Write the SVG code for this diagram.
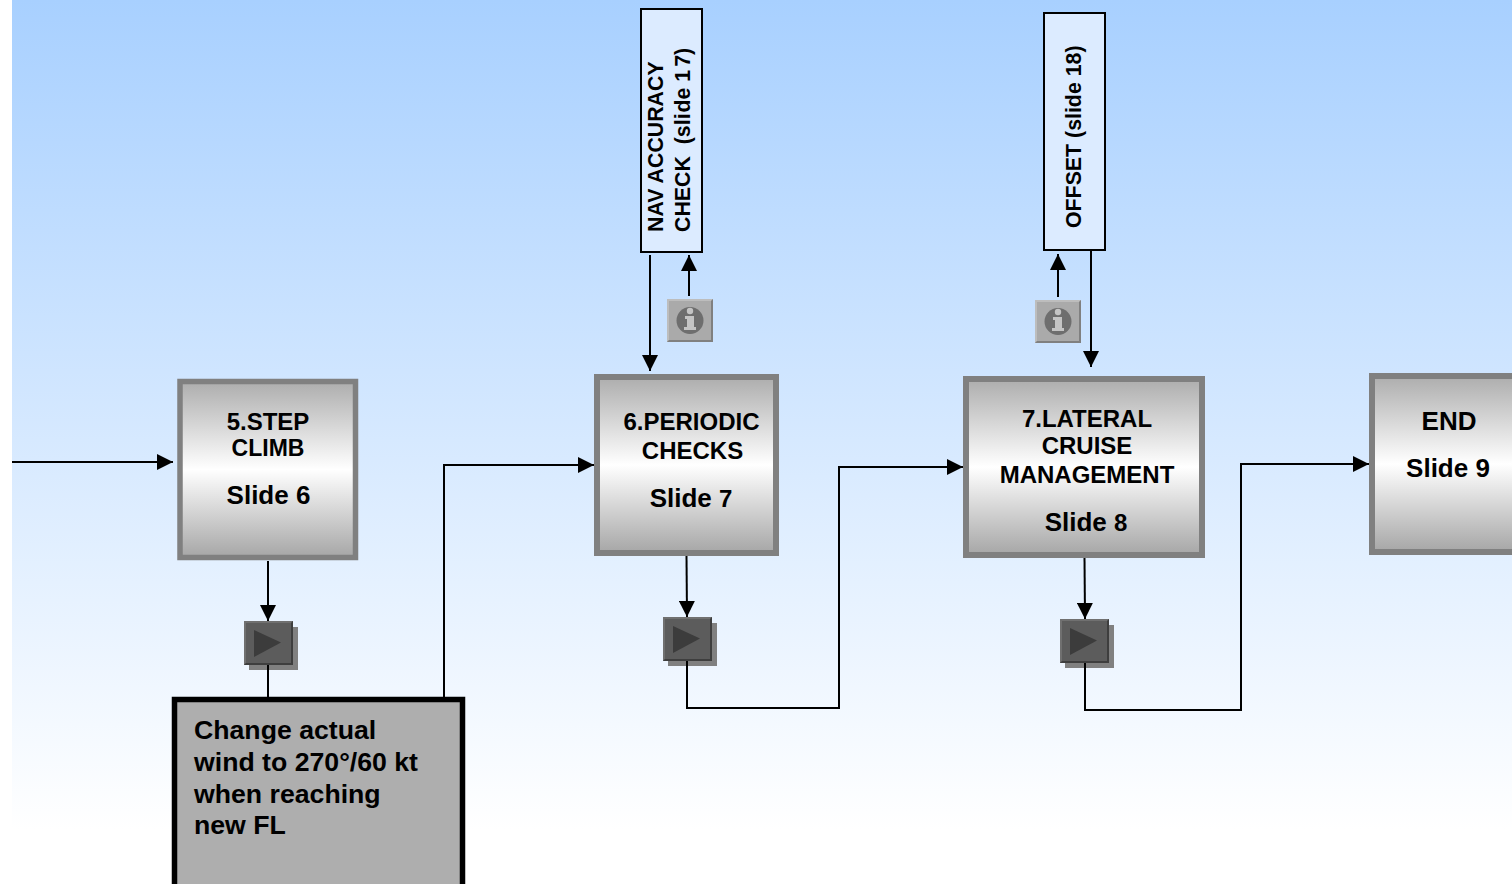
<svg xmlns="http://www.w3.org/2000/svg" width="1512" height="884" viewBox="0 0 1512 884">
<style>
text{font-family:"Liberation Sans",Arial,sans-serif;font-weight:bold;fill:#000;text-anchor:middle}
.n{fill:url(#box);stroke:#808080;stroke-width:6}
.t{font-size:24px}
.s{font-size:26px}
.v{font-size:21.330px;text-anchor:start}
.w{font-size:26.670px;text-anchor:start}
.c{fill:none;stroke:#000;stroke-width:2}
.a{marker-end:url(#arr)}
.side{fill:#dcebff;stroke:#000;stroke-width:2}
</style>
<defs>
<linearGradient id="bg" gradientUnits="userSpaceOnUse" x1="0" y1="0" x2="0" y2="830"><stop offset="0" stop-color="#a8d0ff"/><stop offset="1" stop-color="#fff"/></linearGradient>
<linearGradient id="box" x1="0" y1="0" x2="0" y2="1"><stop offset="0" stop-color="#adadad"/><stop offset=".5" stop-color="#fff"/><stop offset="1" stop-color="#a6a6a6"/></linearGradient>
<marker id="arr" markerUnits="userSpaceOnUse" markerWidth="16" markerHeight="16" refX="16" refY="8" orient="auto"><path d="M0 0L16 8L0 16Z" fill="#000"/></marker>
<g id="info"><rect width="46" height="43" fill="#aaa"/><path d="M0 0H46L44 2H2V41L0 43Z" fill="#bdbdbd"/><path d="M46 0V43H0L2 41H44V2Z" fill="#808080"/><circle cx="23" cy="21.500" r="13.500" fill="#6e6e6e"/><circle cx="23" cy="12" r="3.200" fill="#c4c4c4"/><path d="M18 17H27V28H29V31H17V28H20V20H18Z" fill="#c4c4c4"/></g>
<g id="play"><rect x="5" y="6" width="49" height="43" fill="#808080"/><rect width="49" height="44" fill="#5c5c5c"/><path d="M0 0H49L47 2H2V42L0 44Z" fill="#707070"/><path d="M49 0V44H0L2 42H47V2Z" fill="#3e3e3e"/><path d="M10 9L37 21.500L10 36Z" fill="#3c3c3c"/></g>
</defs>
<rect width="1512" height="884" fill="#fff"/>
<rect id="background" x="12" width="1500" height="884" fill="url(#bg)"/>
<use id="play-step" href="#play" x="244" y="621"/>
<use id="play-periodic" href="#play" x="663" y="617"/>
<use id="play-lateral" href="#play" x="1060" y="619"/>
<use id="info-nav" href="#info" x="667" y="299"/>
<use id="info-offset" href="#info" x="1035" y="300"/>
<g id="connectors">
<path class="c a" d="M12 462H173"/>
<path class="c a" d="M268 561V621"/>
<path class="c" d="M268 665V698"/>
<path class="c a" d="M444 698V465H594"/>
<path class="c a" d="M686.500 556L687 617"/>
<path class="c a" d="M687 661V708H839V467H963"/>
<path class="c a" d="M1084.500 558L1085 619"/>
<path class="c a" d="M1085 663V710H1241V464H1369"/>
<path class="c a" d="M650 255V371"/>
<path class="c a" d="M689 296V255"/>
<path class="c a" d="M1091 250V367"/>
<path class="c a" d="M1058 297V254"/>
</g>
<g id="node-step-climb"><rect class="n" x="180" y="381.500" width="175.500" height="176" style="stroke-width:5.500"/><text class="t" x="268" y="430">5.STEP</text><text class="t" x="268" y="456" font-size="23" style="font-size:23px">CLIMB</text><text class="s" x="268.500" y="504">Slide 6</text></g>
<g id="node-periodic"><rect class="n" x="597" y="377" width="179" height="176"/><text class="t" x="691.500" y="430">6.PERIODIC</text><text class="t" x="692.500" y="459">CHECKS</text><text class="s" x="691" y="507">Slide <tspan font-size="24">7</tspan></text></g>
<g id="node-lateral"><rect class="n" x="966" y="379" width="236" height="176"/><text class="t" x="1087" y="427">7.LATERAL</text><text class="t" x="1087" y="454">CRUISE</text><text class="t" x="1087" y="483">MANAGEMENT</text><text class="s" x="1086" y="531">Slide <tspan font-size="24">8</tspan></text></g>
<g id="node-end"><rect class="n" x="1372" y="376" width="150" height="176"/><text class="s" x="1449" y="430">END</text><text class="s" x="1448" y="477">Slide 9</text></g>
<g id="node-nav"><rect class="side" x="641" y="9" width="61" height="243"/><text class="v" transform="translate(663 232) rotate(-90)">NAV ACCURACY</text><text class="v" transform="translate(690 232) rotate(-90)">CHECK<tspan dx="6">  (sli</tspan> <tspan dx="-5">de</tspan> 1<tspan dx="3">7)</tspan></text></g>
<g id="node-offset"><rect class="side" x="1044" y="13" width="61" height="237"/><text class="v" transform="translate(1081 228) rotate(-90)">OFFSET (slide 18)</text></g>
<g id="node-wind"><rect x="174.500" y="699.500" width="288" height="190" fill="#aeaeae" stroke="#000" stroke-width="5.500"/><text class="w" x="194" y="739">Change actual</text><text class="w" x="194" y="771">wind to 270°/60 kt</text><text class="w" x="194" y="803">when reaching</text><text class="w" x="194" y="834">new FL</text></g>
</svg>
